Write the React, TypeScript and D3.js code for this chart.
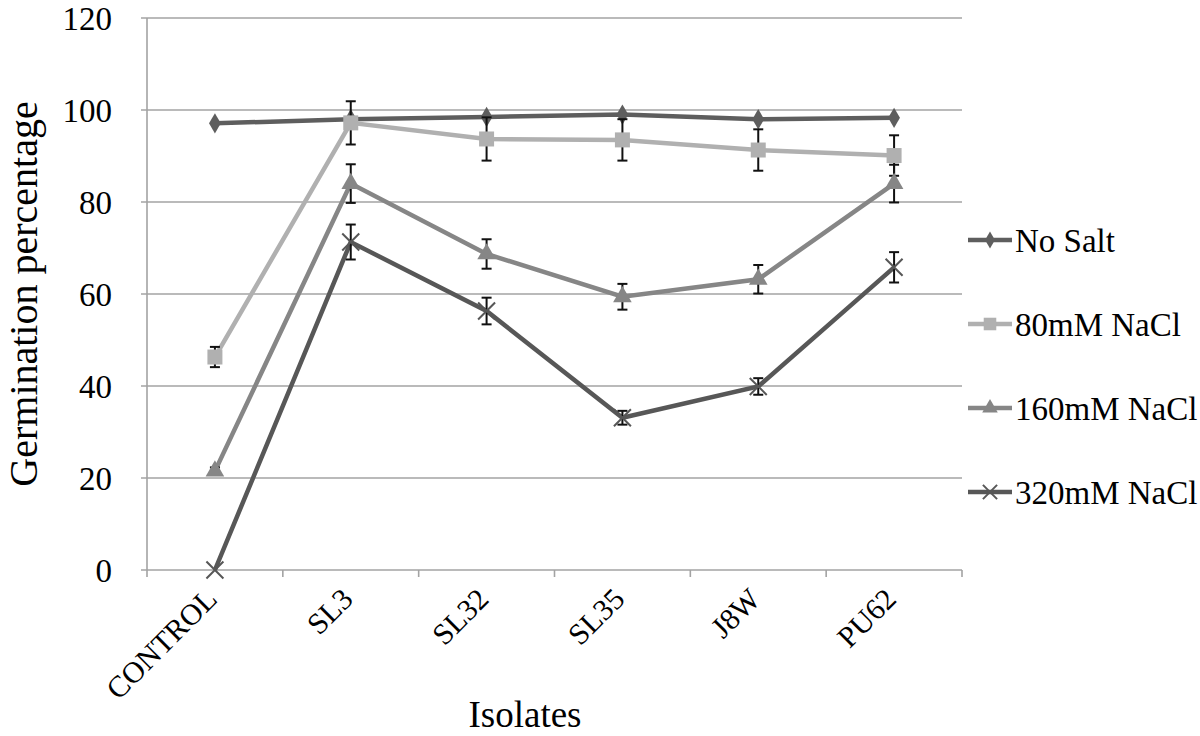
import React, { useEffect, useRef } from 'react';
import * as d3 from 'd3';

const categories = ['CONTROL', 'SL3', 'SL32', 'SL35', 'J8W', 'PU62'];
const seriesNames = ['No Salt', '80mM NaCl', '160mM NaCl', '320mM NaCl'];
const noSalt = [97.1, 98.0, 98.5, 99.0, 98.0, 98.3];
const noSaltErr = [0, 0, 0, 0, 0, 0];
const salt80 = [46.3, 97.2, 93.7, 93.5, 91.3, 90.1];
const salt80Err = [2.2, 4.7, 4.7, 4.5, 4.5, 4.4];
const salt160 = [21.5, 84.0, 68.7, 59.4, 63.2, 84.0];
const salt160Err = [0.8, 4.2, 3.2, 2.8, 3.1, 4.1];
const salt320 = [0, 71.3, 56.3, 33.1, 39.9, 65.8];
const salt320Err = [0, 3.8, 2.9, 1.5, 1.8, 3.3];
const yTicks = [0, 20, 40, 60, 80, 100, 120];

const FONT = "'Liberation Serif', 'Times New Roman', serif";

const App = () => {
  const ref = useRef<SVGSVGElement>(null);

  useEffect(() => {
    const svg = d3.select(ref.current);
    svg.selectAll('*').remove();

    const left = 147, right = 962, top = 18, bottom = 570;
    const x = d3.scaleBand().domain(categories).range([left, right]);
    const y = d3.scaleLinear().domain([0, 120]).range([bottom, top]);
    const cx = (c: string) => (x(c) as number) + x.bandwidth() / 2;

    const series = [
      { name: seriesNames[0], values: noSalt, err: noSaltErr, color: '#5e5e5e', symbol: d3.symbolDiamond, size: 120 },
      { name: seriesNames[1], values: salt80, err: salt80Err, color: '#b0b0b0', symbol: d3.symbolSquare, size: 225 },
      { name: seriesNames[2], values: salt160, err: salt160Err, color: '#868686', symbol: d3.symbolTriangle, size: 150 },
      { name: seriesNames[3], values: salt320, err: salt320Err, color: '#575757', symbol: d3.symbolTimes, size: 190 },
    ];

    // gridlines
    svg.append('g')
      .selectAll('line')
      .data(yTicks)
      .join('line')
        .attr('x1', left - 6)
        .attr('x2', right)
        .attr('y1', d => y(d))
        .attr('y2', d => y(d))
        .attr('stroke', '#a3a3a3')
        .attr('stroke-width', 1.6);

    // y axis line
    svg.append('line')
      .attr('x1', left).attr('x2', left)
      .attr('y1', top).attr('y2', bottom)
      .attr('stroke', '#a3a3a3').attr('stroke-width', 1.6);

    // x axis ticks at band edges
    const edges = categories.map(c => x(c) as number).concat([right]);
    svg.append('g')
      .selectAll('line')
      .data(edges)
      .join('line')
        .attr('x1', d => d).attr('x2', d => d)
        .attr('y1', bottom).attr('y2', bottom + 7)
        .attr('stroke', '#a3a3a3').attr('stroke-width', 1.6);

    const text = (sel: any, size: number) =>
      sel.style('font-family', FONT).style('font-size', `${size}px`).attr('fill', '#000');

    // y tick labels
    svg.append('g')
      .selectAll('text')
      .data(yTicks)
      .join('text')
        .attr('x', left - 35)
        .attr('y', d => y(d))
        .attr('dy', '0.35em')
        .attr('text-anchor', 'end')
        .call(text, 33)
        .text(d => d);

    // x tick labels
    svg.append('g')
      .selectAll('text')
      .data(categories)
      .join('text')
        .attr('transform', d => `translate(${cx(d) - 11},${bottom + 16}) rotate(-45)`)
        .attr('text-anchor', 'end')
        .attr('dy', '0.7em')
        .call(text, 30)
        .text(d => d);

    // axis titles
    svg.append('text')
      .attr('transform', `translate(37,${(top + bottom) / 2}) rotate(-90)`)
      .attr('text-anchor', 'middle')
      .call(text, 40)
      .text('Germination percentage');

    svg.append('text')
      .attr('x', 525)
      .attr('y', 727)
      .attr('text-anchor', 'middle')
      .call(text, 37)
      .text('Isolates');

    const line = d3.line<number>()
      .x((d, i) => cx(categories[i]))
      .y(d => y(d));

    series.forEach(s => {
      const g = svg.append('g');
      g.append('path')
        .attr('d', line(s.values))
        .attr('fill', 'none')
        .attr('stroke', s.color)
        .attr('stroke-width', 4.5);

      // error bars
      const eb = g.append('g').selectAll('g')
        .data(s.values.map((v, i) => ({ v, e: s.err[i], c: categories[i] })).filter(d => d.e > 0))
        .join('g');
      eb.append('line')
        .attr('x1', d => cx(d.c)).attr('x2', d => cx(d.c))
        .attr('y1', d => y(d.v - d.e)).attr('y2', d => y(d.v + d.e))
        .attr('stroke', '#111').attr('stroke-width', 2);
      eb.append('line')
        .attr('x1', d => cx(d.c) - 5).attr('x2', d => cx(d.c) + 5)
        .attr('y1', d => y(d.v + d.e)).attr('y2', d => y(d.v + d.e))
        .attr('stroke', '#111').attr('stroke-width', 2);
      eb.append('line')
        .attr('x1', d => cx(d.c) - 5).attr('x2', d => cx(d.c) + 5)
        .attr('y1', d => y(d.v - d.e)).attr('y2', d => y(d.v - d.e))
        .attr('stroke', '#111').attr('stroke-width', 2);

      const isStroke = s.symbol === d3.symbolTimes;
      g.append('g').selectAll('path')
        .data(s.values)
        .join('path')
          .attr('transform', (d, i) => `translate(${cx(categories[i])},${y(d)})`)
          .attr('d', d3.symbol(s.symbol, s.size)())
          .attr('fill', isStroke ? 'none' : s.color)
          .attr('stroke', isStroke ? s.color : 'none')
          .attr('stroke-width', isStroke ? 2 : 0);
    });

    // legend
    const legendRows = [240, 324, 408, 492];
    series.forEach((s, i) => {
      const g = svg.append('g').attr('transform', `translate(968,${legendRows[i]})`);
      g.append('line')
        .attr('x1', 0).attr('x2', 44)
        .attr('stroke', s.color).attr('stroke-width', 4.5);
      const isStroke = s.symbol === d3.symbolTimes;
      g.append('path')
        .attr('transform', 'translate(22,0)')
        .attr('d', d3.symbol(s.symbol, s.size * 0.7)())
        .attr('fill', isStroke ? 'none' : s.color)
        .attr('stroke', isStroke ? s.color : 'none')
        .attr('stroke-width', isStroke ? 2 : 0);
      g.append('text')
        .attr('x', 47)
        .attr('dy', '0.35em')
        .call(text, 33)
        .text(s.name);
    });
  }, []);

  return (
    <div style={{ position: 'absolute', left: 0, top: 0 }}>
      <svg ref={ref} width={1200} height={736} style={{ display: 'block', background: '#fff' }}></svg>
    </div>
  );
};

export default App;
